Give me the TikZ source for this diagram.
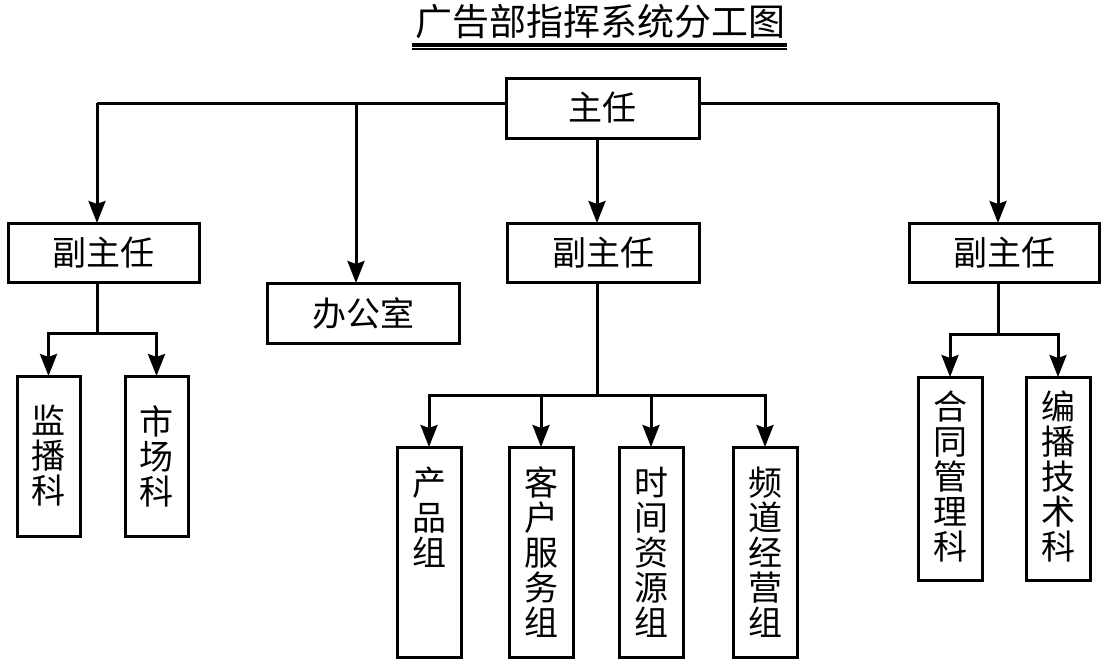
\documentclass[tikz,border=0pt]{standalone}
\usepackage{fontspec}
\newfontfamily\cjk{Noto Sans CJK SC}
\usetikzlibrary{arrows.meta}
\begin{document}
\begin{tikzpicture}[x=1pt,y=-1pt,
  box/.style={draw=black,line width=3pt,inner sep=0pt,outer sep=0pt,fill=white},
  hbox/.style={box,minimum height=59pt,minimum width=192pt,font=\cjk\fontsize{34}{35}\selectfont},
  vbox/.style={box,minimum width=64pt},
  vtext/.style={inner sep=0pt,align=center,font=\cjk\fontsize{34}{35}\selectfont},
  conn/.style={line width=3pt},
  arr/.style={conn,-{Stealth[length=22pt,width=17pt,inset=3pt]}}]
\fill[white] (0,0) rectangle (1108,664);
\path[use as bounding box] (0,0) rectangle (1108,664);
% title
\node[inner sep=0pt,font=\cjk\fontsize{37}{37}\selectfont] (title) at (600,22) {广告部指挥系统分工图};
\draw[line width=4pt] (412,44.7) coordinate (u1) -- (787,44.7) coordinate (u2);
\draw[line width=2pt] (412,49.3) coordinate (u3) -- (787,49.3) coordinate (u4);
% boxes
\node[hbox,minimum width=193pt,minimum height=60pt] (zr) at (602.5,108) {主任};
\node[hbox,minimum width=191pt] (fzl) at (103.5,252.5) {副主任};
\node[hbox,minimum height=60pt] (bgs) at (363,313) {办公室};
\node[hbox] (fzm) at (603,252.5) {副主任};
\node[hbox,minimum width=190pt] (fzr) at (1004,252.5) {副主任};
\node[vbox,minimum width=63pt,minimum height=160pt] (jbk) at (48.5,456) {};
\node[vbox,minimum width=63pt,minimum height=160pt] (sck) at (156.5,456) {};
\node[vbox,minimum height=210pt] (cpz) at (429,552) {};
\node[vbox,minimum height=210pt] (khz) at (541,552) {};
\node[vbox,minimum height=210pt] (sjz) at (651,552) {};
\node[vbox,minimum height=210pt] (pdz) at (765,552) {};
\node[vbox,minimum height=203pt] (htk) at (950,478.5) {};
\node[vbox,minimum height=203pt] (bbk) at (1058,478.5) {};
% vertical texts
\node[vtext] (jbkt) at (jbk.center) {监\\播\\科};
\node[vtext] (sckt) at (sck.center) {市\\场\\科};
\node[vtext,anchor=north] (cpzt) at (429,467) {产\\品\\组};
\node[vtext] (khzt) at (khz.center) {客\\户\\服\\务\\组};
\node[vtext] (sjzt) at (sjz.center) {时\\间\\资\\源\\组};
\node[vtext] (pdzt) at (pdz.center) {频\\道\\经\\营\\组};
\node[vtext] (htkt) at (950,476) {合\\同\\管\\理\\科};
\node[vtext] (bbkt) at (1058,476) {编\\播\\技\\术\\科};
% junction coordinates
\coordinate (jL) at (97,103);
\coordinate (jO) at (356,103);
\coordinate (jR) at (998,103);
\coordinate (jM) at (597,138);
\coordinate (bl) at (97,333);
\coordinate (bm) at (597,395);
\coordinate (br) at (998,334);
% top level connectors
\draw[conn] (zr.west |- jL) -- (jL);
\draw[arr] (jL) -- (jL |- fzl.north);
\draw[arr] (jO) -- (jO |- bgs.north);
\draw[conn] (zr.east |- jR) -- (jR);
\draw[arr] (jR) -- (jR |- fzr.north);
\draw[arr] (jM |- zr.south) -- (jM |- fzm.north);
% left branch
\draw[conn] (bl |- fzl.south) -- (bl);
\draw[arr] (bl) -| (jbk.north);
\draw[arr] (bl) -| (sck.north);
% middle branch
\draw[conn] (bm |- fzm.south) -- (bm);
\draw[arr] (bm) -| (cpz.north);
\draw[arr] (bm) -| (khz.north);
\draw[arr] (bm) -| (sjz.north);
\draw[arr] (bm) -| (pdz.north);
% right branch
\draw[conn] (br |- fzr.south) -- (br);
\draw[arr] (br) -| (htk.north);
\draw[arr] (br) -| (bbk.north);
\end{tikzpicture}
\end{document}
